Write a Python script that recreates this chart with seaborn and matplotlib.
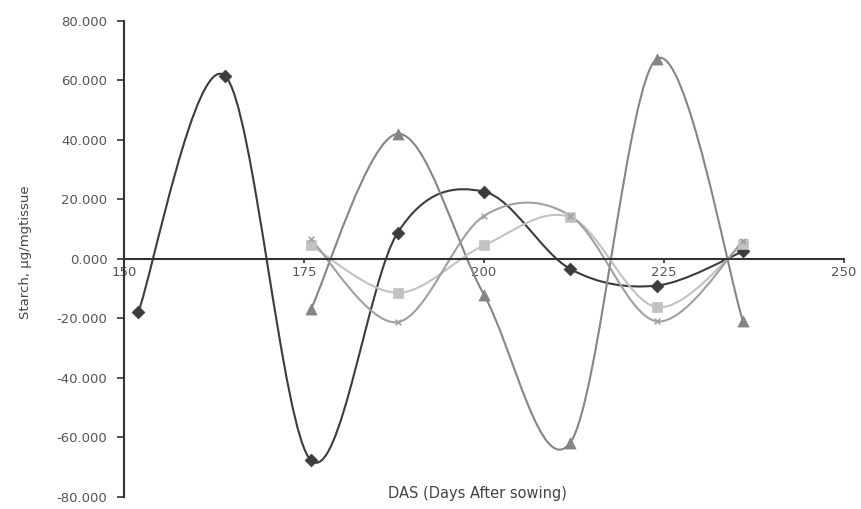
import matplotlib
matplotlib.use("Agg")
import matplotlib.pyplot as plt
from matplotlib.path import Path
from matplotlib.patches import PathPatch
import seaborn as sns
import pandas as pd
import numpy as np

# data
days_a = [152, 164, 176, 188, 200, 212, 224, 236]
days_b = [176, 188, 200, 212, 224, 236]
s1 = [-17.9, 61.6, -67.8, 8.7, 22.6, -3.4, -9.0, 2.5]
s2 = [-16.8, 42.0, -12.0, -61.8, 67.2, -21.0]
s3 = [4.5, -11.4, 4.5, 14.0, -16.2, 5.0]
s4 = [6.5, -21.3, 14.4, 14.5, -21.0, 6.0]

series = [
    ("s1", days_a, s1, "#3c3c3c", "D", 6.5),
    ("s2", days_b, s2, "#858585", "^", 8),
    ("s3", days_b, s3, "#c2c2c2", "s", 7),
    ("s4", days_b, s4, "#a0a0a0", "x", 4),
]


def smooth_path(xs, ys):
    # Catmull-Rom style bezier, like a spreadsheet "smoothed line"
    pts = np.column_stack([xs, ys]).astype(float)
    verts = [pts[0]]
    codes = [Path.MOVETO]
    n = len(pts)
    for i in range(n - 1):
        p0 = pts[max(i - 1, 0)]
        p1 = pts[i]
        p2 = pts[i + 1]
        p3 = pts[min(i + 2, n - 1)]
        c1 = p1 + (p2 - p0) / 6.0
        c2 = p2 - (p3 - p1) / 6.0
        verts += [c1, c2, p2]
        codes += [Path.CURVE4] * 3
    return Path(verts, codes)


sns.set_style("white")
fig = plt.figure(figsize=(8.61, 5.09), dpi=100)
ax = fig.add_axes([0.144, 0.024, 0.836, 0.935])

for name, xs, ys, col, mk, ms in series:
    ax.add_patch(PathPatch(smooth_path(xs, ys), facecolor="none",
                           edgecolor=col, lw=1.5, zorder=2))
    df = pd.DataFrame({"x": xs, "y": ys})
    sns.scatterplot(data=df, x="x", y="y", ax=ax, color=col, marker=mk,
                    s=ms ** 2, edgecolor=col if mk != "x" else None,
                    linewidth=1.2 if mk == "x" else 0.5, zorder=3, legend=False)

ax.set_xlim(150, 250)
ax.set_ylim(-80, 80)
ax.set_xticks([150, 175, 200, 225, 250])
ax.set_yticks(np.arange(-80, 81, 20))
ax.set_yticklabels([f"{v:.3f}" for v in np.arange(-80, 81, 20)])
ax.set_xlabel("")
ax.set_ylabel("")

for s in ["top", "right"]:
    ax.spines[s].set_visible(False)
ax.spines["bottom"].set_position(("data", 0))
ax.spines["left"].set_color("#333333")
ax.spines["bottom"].set_color("#333333")
ax.spines["left"].set_linewidth(1.5)
ax.spines["bottom"].set_linewidth(1.5)

ax.tick_params(axis="y", direction="out", length=5, width=1.2,
               color="#333333", labelsize=9.5, labelcolor="#555555", pad=7)
ax.tick_params(axis="x", direction="out", length=3, width=1.2,
               color="#333333", labelsize=9.5, labelcolor="#555555", pad=2)
ax.tick_params(left=True, bottom=True)

fig.text(0.03, 0.505, "Starch, µg/mgtissue", rotation=90, ha="center",
         va="center", fontsize=9.5, color="#444444")
fig.text(0.555, 0.031, "DAS (Days After sowing)", ha="center", va="center",
         fontsize=10.5, color="#444444")

fig.savefig("out.png", dpi=100)
